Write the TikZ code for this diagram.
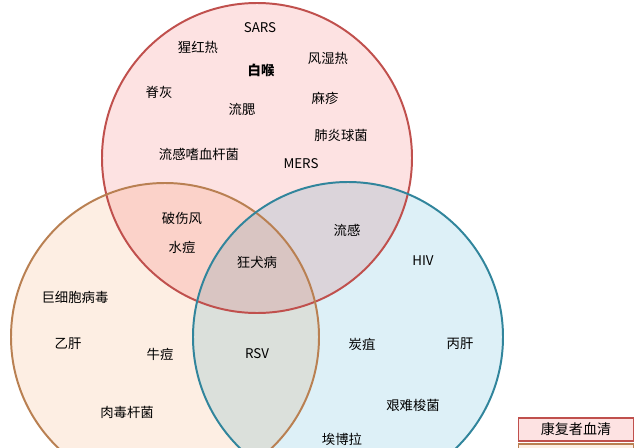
\documentclass[tikz,border=0pt]{standalone}
\usepackage{fontspec}
\newfontfamily\cjk{Noto Sans CJK SC}
\usetikzlibrary{positioning}
\definecolor{rimred}{RGB}{192,80,77}
\definecolor{rimbrown}{RGB}{185,128,82}
\definecolor{rimteal}{RGB}{49,133,156}
\definecolor{fillred}{RGB}{253,226,226}
\definecolor{fillbrown}{RGB}{253,238,227}
\definecolor{fillteal}{RGB}{221,240,247}

\begin{document}
\begin{tikzpicture}[x=0.025cm, y=-0.025cm,
    lbl/.style={font=\cjk\fontsize{9.5}{11}\selectfont, inner sep=1pt},
    keybox/.style={draw, line width=1.3pt, minimum width=115*0.025cm,
      minimum height=23*0.025cm, font=\cjk\fontsize{10}{12}\selectfont}]

  \useasboundingbox (0,0) rectangle (640,448);

  % ---- the three sets ----
  \coordinate (cRed)   at (257,158);
  \coordinate (cBrown) at (165,337);
  \coordinate (cTeal)  at (348,337);

  \begin{scope}[blend group=multiply]
    \fill[fillred]   (cRed)   circle (155);
    \fill[fillbrown] (cBrown) circle (154);
    \fill[fillteal]  (cTeal)  circle (155);
  \end{scope}
  \draw[rimred, line width=1.4pt]   (cRed)   circle (155);
  \draw[rimbrown, line width=1.4pt] (cBrown) circle (154);
  \draw[rimteal, line width=1.4pt]  (cTeal)  circle (155);

  % ---- top set only ----
  \node[lbl] (sars)    at (260,28)  {SARS};
  \node[lbl] (scarlet) at (198,47)  {猩红热};
  \node[lbl] (rheum)   at (328,58)  {风湿热};
  \node[lbl, font=\cjk\bfseries\fontsize{9.5}{11}\selectfont] (diph) at (261,70) {白喉};
  \node[lbl] (polio)   at (159,92)  {脊灰};
  \node[lbl] (measles) at (325,98)  {麻疹};
  \node[lbl] (mumps)   at (242,109) {流腮};
  \node[lbl] (pneumo)  at (341,135) {肺炎球菌};
  \node[lbl] (hib)     at (199,154) {流感嗜血杆菌};
  \node[lbl] (mers)    at (301,164) {MERS};

  % ---- overlaps ----
  \node[lbl] (tetanus) at (182,218) {破伤风};
  \node[lbl] (varic)   at (182,247) {水痘};
  \node[lbl] (flu)     at (347,230) {流感};
  \node[lbl] (rabies)  at (257,262) {狂犬病};
  \node[lbl] (rsv)     at (257,354) {RSV};

  % ---- left set only ----
  \node[lbl] (cmv)     at (75,297)  {巨细胞病毒};
  \node[lbl] (hepb)    at (68,344)  {乙肝};
  \node[lbl] (cowpox)  at (160,354) {牛痘};
  \node[lbl] (botul)   at (127,412) {肉毒杆菌};

  % ---- right set only ----
  \node[lbl] (hiv)     at (423,261) {HIV};
  \node[lbl] (anthrax) at (362,344) {炭疽};
  \node[lbl] (hepc)    at (460,344) {丙肝};
  \node[lbl] (cdiff)   at (413,405) {艰难梭菌};
  \node[lbl] (ebola)   at (342,439) {埃博拉};

  % ---- legend ----
  \node[keybox, draw=rimred, fill=fillred] (keyRed) at (576,429.5) {康复者血清};
  \node[keybox, draw=rimbrown, fill=fillbrown, below=1pt of keyRed] (keyBrown) {};

\end{tikzpicture}
\end{document}
